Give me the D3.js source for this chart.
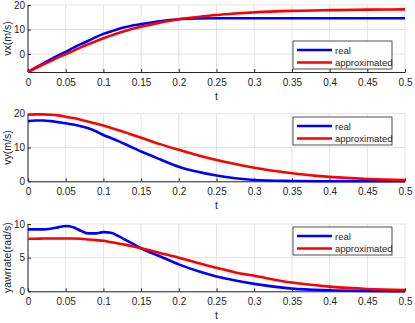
<!DOCTYPE html>
<html>
<head>
<meta charset="utf-8">
<script src="https://cdnjs.cloudflare.com/ajax/libs/d3/7.8.5/d3.min.js"></script>
<style>
  body { margin: 0; background: #fff; }
  svg { font-family: "Liberation Sans", Arial, sans-serif; }
  .tick text { fill: #262626; font-size: 10px; }
  .lbl { fill: #262626; font-size: 10.5px; }
</style>
</head>
<body>
<svg id="chart" width="415" height="323"></svg>
<script>
// time samples shared by all series
var tVals = [0, .01, .02, .03, .04, .05, .06, .07, .08, .09, .1, .11, .12, .13, .14, .15,
             .175, .2, .225, .25, .275, .3, .35, .4, .45, .5];

var vxReal   = [-7.3, -5.6, -3.9, -2.2, -0.6, 0.9, 2.5, 4.0, 5.4, 6.9, 8.2, 9.2, 10.2, 11.0, 11.7, 12.2,
                13.4, 14.2, 14.5, 14.6, 14.6, 14.6, 14.6, 14.6, 14.6, 14.6];
var vxApprox = [-7.3, -5.8, -4.3, -2.9, -1.4, -0.1, 1.3, 2.7, 4.0, 5.2, 6.4, 7.5, 8.6, 9.5, 10.4, 11.1,
                12.8, 14.2, 15.1, 15.9, 16.5, 17.0, 17.6, 17.9, 18.1, 18.2];

var vyReal   = [17.8, 18.0, 18.0, 17.8, 17.5, 17.2, 16.8, 16.3, 15.7, 14.8, 13.7, 12.8, 11.9, 10.9, 9.8, 8.8,
                6.5, 4.3, 2.8, 1.7, 0.9, 0.4, 0.1, 0, 0, 0];
var vyApprox = [19.7, 19.8, 19.8, 19.7, 19.5, 19.1, 18.7, 18.2, 17.6, 17.1, 16.5, 15.8, 15.1, 14.4, 13.6, 12.9,
                11.0, 9.3, 7.7, 6.3, 5.1, 4.0, 2.4, 1.3, 0.7, 0.4];

var yawReal   = [9.2, 9.2, 9.2, 9.3, 9.5, 9.7, 9.5, 9.0, 8.6, 8.6, 8.8, 8.7, 8.2, 7.6, 7.0, 6.4,
                 5.2, 4.0, 3.0, 2.2, 1.6, 1.1, 0.4, 0.15, 0.05, 0];
var yawApprox = [7.8, 7.8, 7.85, 7.85, 7.85, 7.85, 7.85, 7.8, 7.7, 7.6, 7.5, 7.3, 7.1, 6.9, 6.65, 6.4,
                 5.7, 5.0, 4.2, 3.5, 2.8, 2.3, 1.3, 0.7, 0.35, 0.2];

var xTicks = [0, 0.05, 0.1, 0.15, 0.2, 0.25, 0.3, 0.35, 0.4, 0.45, 0.5];
var seriesNames = ["real", "approximated"];
var seriesColors = ["#0000ff", "#ff0000"];

var svg = d3.select("#chart");

var xScale = d3.scaleLinear().domain([0, 0.5]).range([28, 405]);

function drawPanel(opt) {
  var yScale = d3.scaleLinear().domain(opt.domain).range([opt.bottom, opt.top]);
  var g = svg.append("g");

  // grid
  g.selectAll(".gx").data(xTicks).enter().append("line")
    .attr("x1", d => xScale(d)).attr("x2", d => xScale(d))
    .attr("y1", opt.top).attr("y2", opt.bottom)
    .attr("stroke", "#e3e3e3").attr("stroke-width", 1);
  g.selectAll(".gy").data(opt.ticks).enter().append("line")
    .attr("x1", xScale(0)).attr("x2", xScale(0.5))
    .attr("y1", d => yScale(d)).attr("y2", d => yScale(d))
    .attr("stroke", "#e3e3e3").attr("stroke-width", 1);

  // axes, ticks pointing inward
  var xAxis = g.append("g")
    .attr("transform", "translate(0," + opt.bottom + ")")
    .call(d3.axisBottom(xScale).tickValues(xTicks).tickSizeInner(-3).tickSizeOuter(0).tickPadding(7)
      .tickFormat(d3.format("")));
  var yAxis = g.append("g")
    .attr("transform", "translate(" + xScale(0) + ",0)")
    .call(d3.axisLeft(yScale).tickValues(opt.ticks).tickSizeInner(-3).tickSizeOuter(0).tickPadding(3));
  [xAxis, yAxis].forEach(function(a) {
    a.select(".domain").attr("stroke", "#262626");
    a.selectAll(".tick line").attr("stroke", "#262626");
    a.selectAll(".tick text").style("font-family", "'Liberation Sans', Arial, sans-serif");
  });
  // y axis line spans whole plot height
  yAxis.select(".domain").attr("d", "M0," + opt.bottom + "V" + opt.top);

  // lines
  var line = d3.line()
    .curve(d3.curveMonotoneX)
    .x((d, i) => xScale(tVals[i]))
    .y(d => yScale(d));
  [opt.real, opt.approx].forEach(function(s, k) {
    g.append("path")
      .attr("d", line(s))
      .attr("fill", "none")
      .attr("stroke", seriesColors[k])
      .attr("stroke-width", 2.6);
  });

  // labels
  g.append("text").attr("class", "lbl")
    .attr("transform", "translate(11," + (opt.top + opt.bottom) / 2 + ") rotate(-90)")
    .attr("text-anchor", "middle")
    .text(opt.ylabel);
  g.append("text").attr("class", "lbl")
    .attr("x", (xScale(0) + xScale(0.5)) / 2).attr("y", opt.bottom + 28)
    .attr("text-anchor", "middle")
    .text("t");

  // legend
  var lg = g.append("g").attr("transform", "translate(293," + opt.legendTop + ")");
  lg.append("rect").attr("width", 99).attr("height", 28)
    .attr("fill", "#fff").attr("stroke", "#262626").attr("stroke-width", 0.8);
  seriesNames.forEach(function(n, k) {
    var yy = 9 + k * 12.5;
    lg.append("line").attr("x1", 4).attr("x2", 39).attr("y1", yy).attr("y2", yy)
      .attr("stroke", seriesColors[k]).attr("stroke-width", 2.6);
    lg.append("text").attr("x", 42).attr("y", yy + 3.5)
      .attr("fill", "#262626").style("font-size", "9.5px").text(n);
  });
}

drawPanel({ top: 5, bottom: 72, domain: [-7.35, 20], ticks: [0, 10, 20],
  ylabel: "vx(m/s)", real: vxReal, approx: vxApprox, legendTop: 41 });
drawPanel({ top: 113.7, bottom: 181.3, domain: [0, 20], ticks: [0, 10, 20],
  ylabel: "vy(m/s)", real: vyReal, approx: vyApprox, legendTop: 117 });
drawPanel({ top: 224, bottom: 291.3, domain: [0, 10], ticks: [0, 5, 10],
  ylabel: "yawrrate(rad/s)", real: yawReal, approx: yawApprox, legendTop: 227 });
</script>
</body>
</html>
